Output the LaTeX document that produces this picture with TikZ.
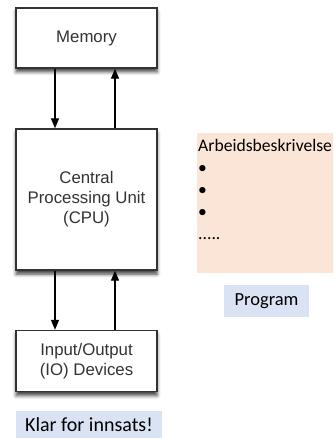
\documentclass[tikz,border=0pt]{standalone}
\usepackage{fontspec}
\setsansfont{Liberation Sans}
\newfontfamily\calibri{Carlito}
\usetikzlibrary{arrows.meta, shadows.blur}
\definecolor{unitgrey}{HTML}{333333}
\definecolor{notepeach}{HTML}{FBE5D6}
\definecolor{tagblue}{HTML}{DAE3F3}
\tikzset{
  unit/.style={draw=unitgrey, line width=1.4pt, fill=white, minimum width=141pt,
    align=center, text=unitgrey, font=\sffamily\fontsize{16.8}{20}\selectfont,
    blur shadow={shadow xshift=0pt, shadow yshift=-4pt, shadow blur radius=3.5pt, shadow opacity=75}},
  bus/.style={line width=1.3pt, -{Triangle[length=10pt,width=8pt]}},
  tag/.style={fill=tagblue, inner sep=0pt, font=\calibri\fontsize{18.5}{22}\selectfont}
}

\begin{document}
\begin{tikzpicture}[x=1pt, y=-1pt]
  \useasboundingbox (0,0) rectangle (333,438);
  % von Neumann units
  \node[unit, minimum height=60pt] (mem) at (86.5,38) {Memory};
  \node[unit, minimum height=141pt] (cpu) at (86.5,199.5) {Central\\Processing Unit\\(CPU)};
  \node[unit, minimum height=61pt] (io) at (86.5,361) {Input/Output\\(IO) Devices};
  \draw[bus] ([xshift=-31.5pt]mem.south) -- ([xshift=-31.5pt]cpu.north);
  \draw[bus] ([xshift=28.5pt]cpu.north) -- ([xshift=28.5pt]mem.south);
  \draw[bus] ([xshift=-31.5pt]cpu.south) -- ([xshift=-31.5pt]io.north);
  \draw[bus] ([xshift=28.5pt]io.north) -- ([xshift=28.5pt]cpu.south);
  \node[tag, minimum width=146pt, minimum height=27pt, font=\calibri\fontsize{20}{24}\selectfont] (ready) at (89,424.5) {Klar for innsats!};
  % job description
  \fill[notepeach] (197,133) rectangle (333,273);
  \node[anchor=north west, inner sep=0pt, align=left, font=\calibri\fontsize{17.6}{22}\selectfont] (task) at (198,139.5)
    {Arbeidsbeskrivelse\\•\\•\\•\\.....};
  \node[tag, minimum width=85pt, minimum height=32pt] (prog) at (266.5,301) {Program};
\end{tikzpicture}
\end{document}
